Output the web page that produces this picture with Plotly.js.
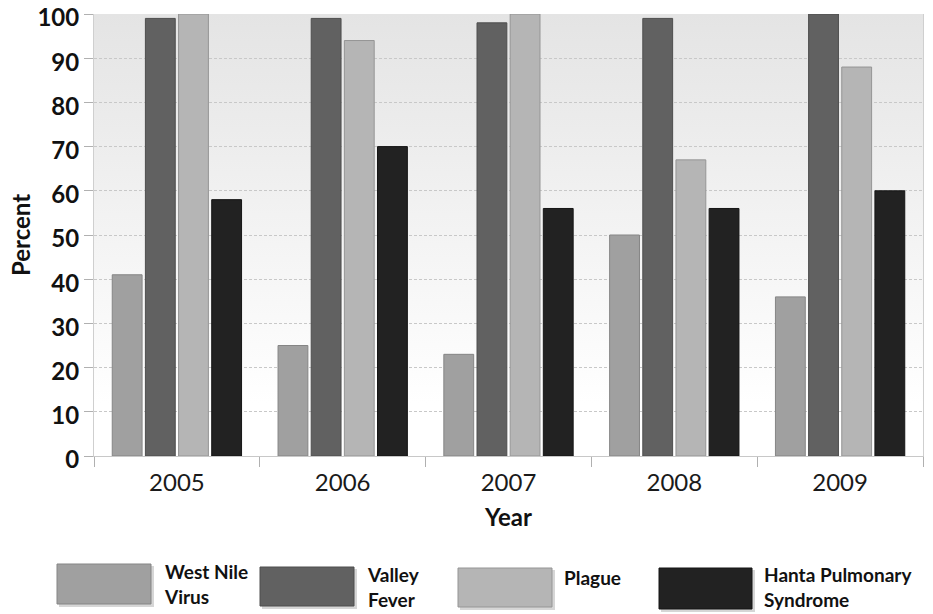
<!DOCTYPE html>
<html>
<head>
<meta charset="utf-8">
<script src="https://cdn.plot.ly/plotly-3.0.1.min.js"></script>
<style>html,body{margin:0;padding:0;background:#fff;}#chart{width:933px;height:614px;}</style>
</head>
<body>
<div id="chart"></div>
<script>
const years = ['2005', '2006', '2007', '2008', '2009'];
const seriesNames = ['West Nile<br>Virus', 'Valley<br>Fever', 'Plague', 'Hanta Pulmonary<br>Syndrome'];
const westNile = [41, 25, 23, 50, 36];
const valleyFever = [99, 99, 98, 99, 100];
const plague = [100, 94, 100, 67, 88];
const hanta = [58, 70, 56, 56, 60];
const yTicks = [0, 10, 20, 30, 40, 50, 60, 70, 80, 90, 100];

const seriesValues = [westNile, valleyFever, plague, hanta];
const fills = ['#a0a0a0', '#616161', '#b5b5b5', '#222222'];
const edges = ['#858585', '#4e4e4e', '#959595', '#151515'];

const W = 933, H = 614;
const M = {l: 94, r: 10, t: 14, b: 158};
const PW = W - M.l - M.r, PH = H - M.t - M.b;
const px = x => (x - M.l) / PW;
const py = y => (H - M.b - y) / PH;

const traces = seriesValues.map((vals, i) => ({
  type: 'bar',
  name: seriesNames[i].replace('<br>', ' '),
  x: years,
  y: vals,
  marker: {color: fills[i], line: {color: edges[i], width: 1}},
  showlegend: false,
  hoverinfo: 'x+y+name'
}));

const FONT = 'Lato, "Noto Sans", sans-serif';

// legend built from series names
const legendBoxes = [
  {x0: 57, x1: 151, y0: 564, y1: 604, tx: 163, ty: 584},
  {x0: 260, x1: 354, y0: 567, y1: 606, tx: 366, ty: 587},
  {x0: 458, x1: 552, y0: 568, y1: 607, tx: 563, ty: 577},
  {x0: 659, x1: 752, y0: 568, y1: 609, tx: 763, ty: 587}
];
const shapes = [];
const annotations = [];
legendBoxes.forEach((b, i) => {
  shapes.push({type: 'rect', xref: 'paper', yref: 'paper',
    x0: px(b.x0 + 2), x1: px(b.x1 + 3), y0: py(b.y1 + 3), y1: py(b.y0 + 2),
    fillcolor: 'rgba(0,0,0,0.16)', line: {width: 0}});
  shapes.push({type: 'rect', xref: 'paper', yref: 'paper',
    x0: px(b.x0), x1: px(b.x1), y0: py(b.y1), y1: py(b.y0),
    fillcolor: fills[i], line: {color: edges[i], width: 1}});
  annotations.push({xref: 'paper', yref: 'paper', x: px(b.tx), y: py(b.ty),
    xanchor: 'left', yanchor: 'middle', align: 'left', showarrow: false, borderpad: 0,
    text: seriesNames[i], font: {family: FONT, size: 19, color: '#111', weight: 'bold'}});
});

const bgSvg = '<svg xmlns="http://www.w3.org/2000/svg" width="100" height="100" preserveAspectRatio="none">' +
  '<defs><linearGradient id="g" x1="0" y1="0" x2="0" y2="1">' +
  '<stop offset="0" stop-color="#e4e4e4"/><stop offset="0.88" stop-color="#ffffff"/></linearGradient></defs>' +
  '<rect width="100" height="100" fill="url(#g)"/></svg>';

const layout = {
  width: W, height: H,
  margin: M,
  paper_bgcolor: '#ffffff',
  plot_bgcolor: 'rgba(0,0,0,0)',
  barmode: 'group',
  bargap: 0.2,
  bargroupgap: 0.1,
  images: [{source: 'data:image/svg+xml;charset=utf-8,' + encodeURIComponent(bgSvg),
    xref: 'paper', yref: 'paper', x: 0, y: 1, sizex: 1, sizey: 1,
    sizing: 'stretch', layer: 'below', xanchor: 'left', yanchor: 'top'}],
  xaxis: {
    type: 'category',
    tickson: 'boundaries',
    ticks: 'outside', ticklen: 10, tickcolor: '#b0b0b0', tickwidth: 1,
    showline: true, linecolor: '#c8c8c8', linewidth: 1,
    showgrid: false,
    ticklabelstandoff: 5,
    tickfont: {family: FONT, size: 24, color: '#1a1a1a'},
    title: {text: 'Year', font: {family: FONT, size: 24, color: '#111', weight: 'bold'}, standoff: 14}
  },
  yaxis: {
    range: [0, 100],
    tickvals: yTicks,
    ticks: 'outside', ticklen: 9, tickcolor: '#b0b0b0', tickwidth: 1,
    showline: true, mirror: true, linecolor: '#cfcfcf', linewidth: 1,
    showgrid: true, gridcolor: '#c8c8c8', griddash: '3px,2px', gridwidth: 1,
    zeroline: false,
    ticklabelshift: 4,
    ticklabelstandoff: 0,
    tickfont: {family: FONT, size: 24, color: '#111', weight: 'bold'},
    title: {text: 'Percent', font: {family: FONT, size: 24, color: '#111', weight: 'bold'}, standoff: 0}
  },
  shapes: shapes,
  annotations: annotations,
  font: {family: FONT}
};

Plotly.newPlot('chart', traces, layout, {displayModeBar: false, staticPlot: true});
</script>
</body>
</html>
